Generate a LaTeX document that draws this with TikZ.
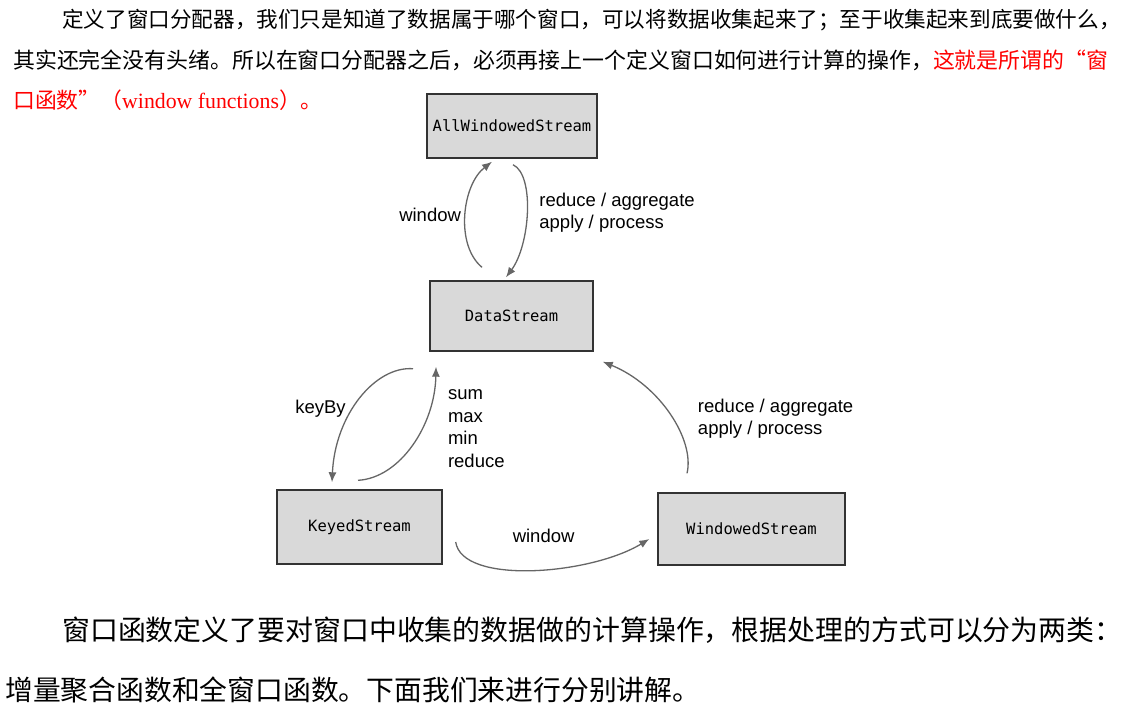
\documentclass[tikz,border=0pt]{standalone}
\usepackage{fontspec}
\setmainfont{Liberation Serif}
\setsansfont{Liberation Sans}
\setmonofont{DejaVu Sans Mono}
\newfontfamily\cjk{Noto Sans CJK SC}
\usepackage{xcolor}
\usepackage{tikz}
\usetikzlibrary{arrows.meta, positioning}
\definecolor{StreamGray}{HTML}{D9D9D9}
\definecolor{EdgeGray}{HTML}{666666}
\definecolor{NoteRed}{HTML}{FF0000}

\begin{document}
\begin{tikzpicture}[x=1pt, y=-1pt]
    \tikzstyle{stream} = [rectangle, inner sep=0pt, draw=black!80, line width=1.4pt, fill=StreamGray, font=\ttfamily\fontsize{15.5}{18}\selectfont]
    \tikzstyle{lbl} = [inner sep=0pt, align=left, text=black, font=\sffamily\fontsize{18.5}{22.5}\selectfont]
    \tikzstyle{arrow} = [EdgeGray, line width=1.3pt, -{Latex[length=10pt,width=8pt]}]
    \tikzstyle{para} = [inner sep=0pt, anchor=west]

    \fill [white] (0,0) rectangle (1126,715);
    \useasboundingbox (0,0) rectangle (1126,715);

    \node (p1a) [para, font=\cjk\fontsize{21.6}{26}\selectfont] at (62,20) {定义了窗口分配器，我们只是知道了数据属于哪个窗口，可以将数据收集起来了；至于收集起来到底要做什么，};
    \node (p1b) [para, font=\cjk\fontsize{21.9}{26}\selectfont] at (13,60) {其实还完全没有头绪。所以在窗口分配器之后，必须再接上一个定义窗口如何进行计算的操作，\textcolor{NoteRed}{这就是所谓的“窗}};
    \node (p1c) [para, text=NoteRed, font=\cjk\fontsize{21.8}{26}\selectfont] at (13,100) {口函数”（{\rmfamily window functions}）。};

    \node (aws) [stream, minimum width=170pt, minimum height=64pt] at (512,126) {AllWindowedStream};
    \node (ds) [stream, minimum width=163pt, minimum height=70pt] at (511.5,316) {DataStream};
    \node (ks) [stream, minimum width=165pt, minimum height=74pt] at (359.5,527) {KeyedStream};
    \node (ws) [stream, minimum width=187pt, minimum height=72pt] at (751.5,529) {WindowedStream};

    \draw [arrow] ([xshift=-29.5pt,yshift=13pt]ds.north) .. controls (455,245) and (462,185) .. ([xshift=-20pt,yshift=-3pt]aws.south)
        node[lbl, pos=0.5, anchor=east, xshift=-4pt] (lwin1) {window};
    \draw [arrow] ([xshift=1pt,yshift=-6pt]aws.south) .. controls (535,175) and (530,245) .. ([xshift=-5.5pt,yshift=3pt]ds.north)
        node[lbl, pos=0.5, anchor=west, xshift=12pt] (lred1) {reduce / aggregate\\apply / process};
    \draw [arrow] ([xshift=-98.5pt,yshift=-17pt]ds.south) .. controls (375,366) and (335,415) .. ([xshift=-27.5pt,yshift=7pt]ks.north)
        node[lbl, pos=0.5, anchor=east, xshift=-13pt, yshift=-9pt] (lkey) {keyBy};
    \draw [arrow] ([xshift=-1.5pt,yshift=9pt]ks.north) .. controls (400,478) and (435,425) .. ([xshift=-75.5pt,yshift=-15pt]ds.south)
        node[lbl, pos=0.5, anchor=west, xshift=35pt, yshift=16pt] (lagg) {sum\\max\\min\\reduce};
    \draw [arrow] ([xshift=13pt,yshift=-15pt]ks.east) .. controls (462,585) and (590,575) .. ([xshift=-8pt,yshift=-10pt]ws.west)
        node[lbl, pos=0.5, anchor=center, xshift=11pt, yshift=34pt] (lwin2) {window};
    \draw [arrow] ([xshift=-64.5pt,yshift=19pt]ws.north) .. controls (695,440) and (660,385) .. ([xshift=9pt,yshift=-10pt]ds.south east)
        node[lbl, pos=0.5, anchor=west, xshift=28pt, yshift=-5pt] (lred2) {reduce / aggregate\\apply / process};

    \node (p2a) [para, font=\cjk\fontsize{27.9}{34}\selectfont] at (62,630) {窗口函数定义了要对窗口中收集的数据做的计算操作，根据处理的方式可以分为两类：};
    \node (p2b) [para, font=\cjk\fontsize{27.8}{34}\selectfont] at (5,690) {增量聚合函数和全窗口函数。下面我们来进行分别讲解。};

\end{tikzpicture}
\end{document}
